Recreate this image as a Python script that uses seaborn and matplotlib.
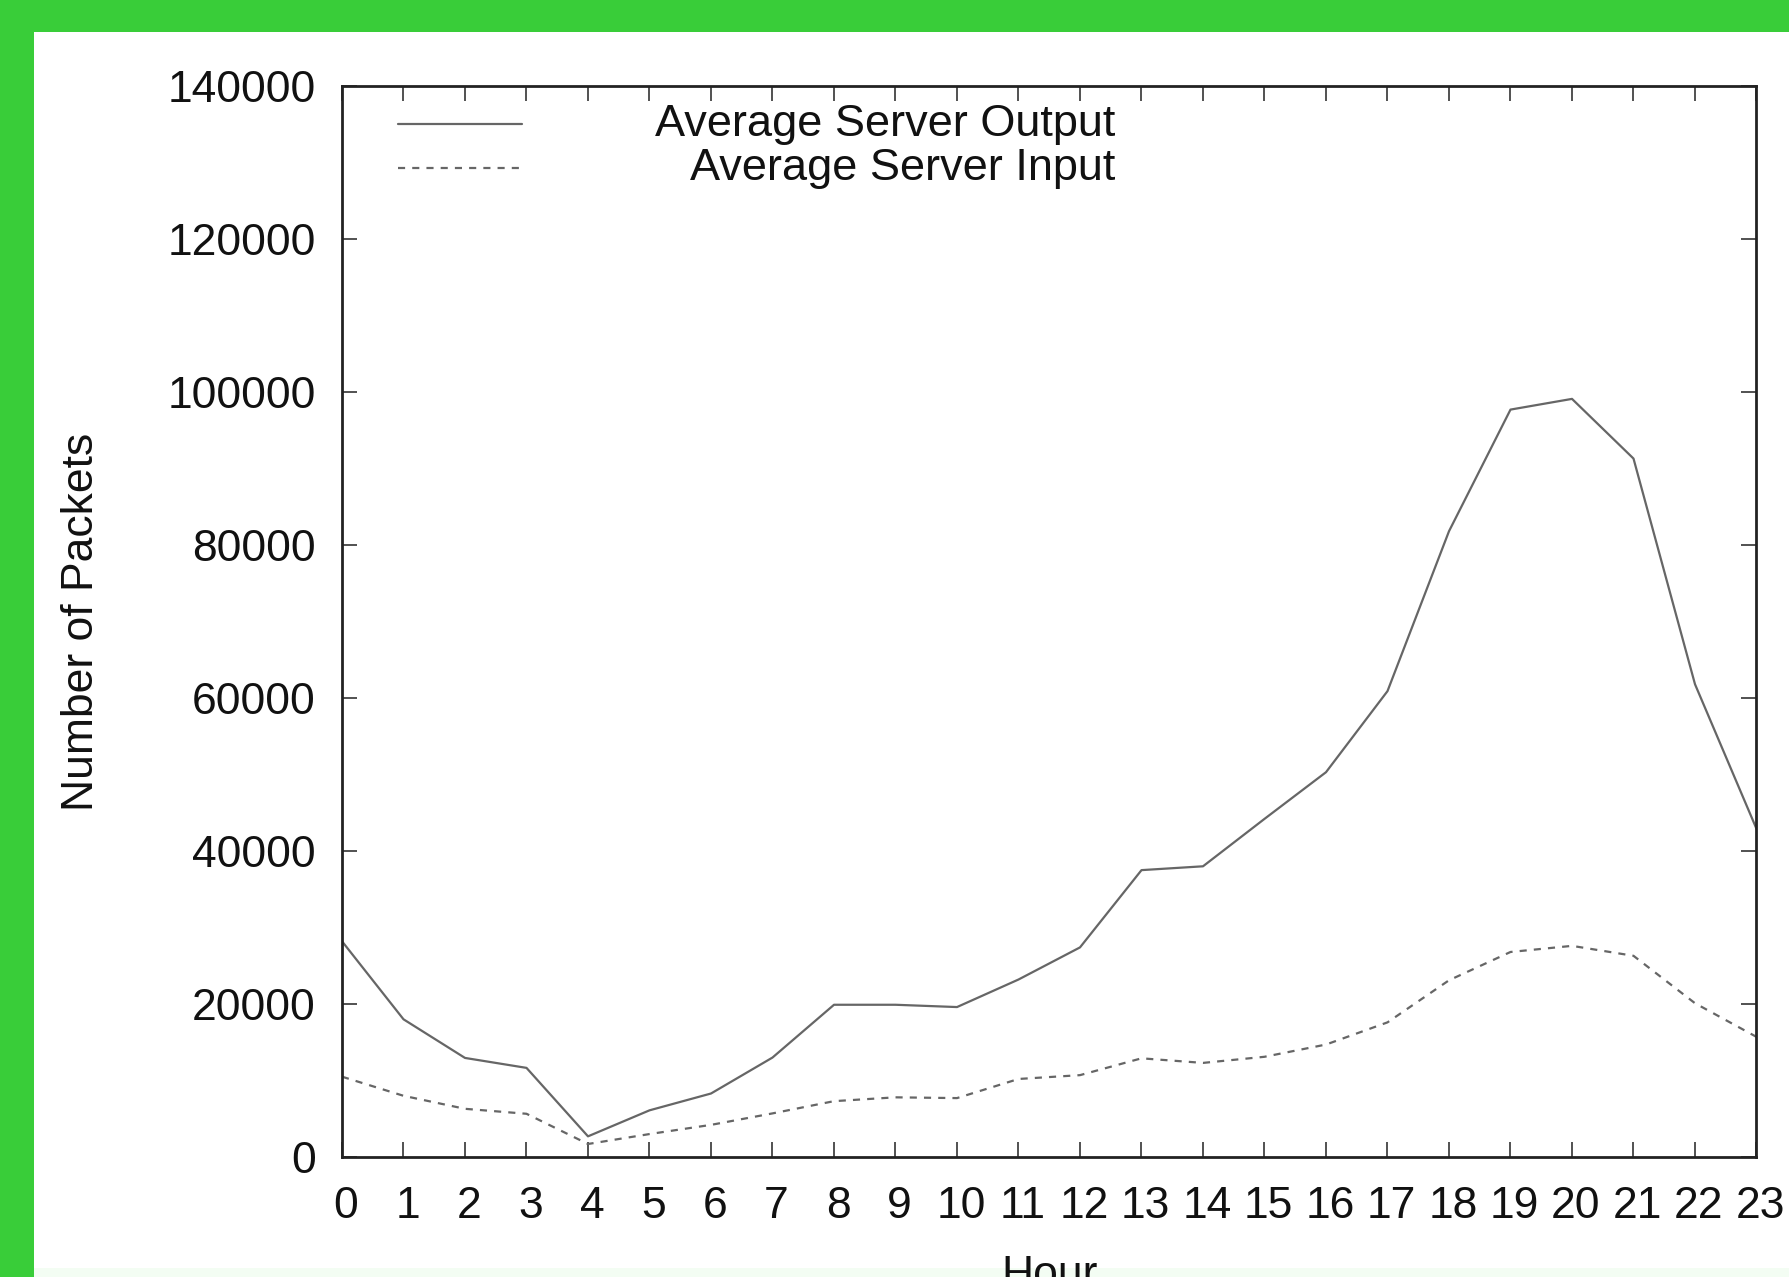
import matplotlib
matplotlib.use("Agg")
import matplotlib.pyplot as plt
import matplotlib.transforms as mtransforms
from matplotlib.lines import Line2D
from matplotlib.patches import Rectangle
import seaborn as sns
import pandas as pd

# Hourly averages of server traffic (packets)
hours = list(range(24))
server_output = [28200, 18000, 12950, 11650, 2700, 6100, 8300, 13000, 19900, 19900,
                 19600, 23200, 27400, 37500, 38000, 44200, 50300, 60900, 81800, 97700,
                 99100, 91300, 61800, 42900]
server_input = [10500, 8000, 6300, 5650, 1700, 3000, 4200, 5700, 7300, 7800,
                7700, 10200, 10700, 12900, 12300, 13100, 14700, 17600, 23100, 26800,
                27600, 26300, 20100, 15700]
series_labels = ["Average Server Output", "Average Server Input"]
y_ticks = [0, 20000, 40000, 60000, 80000, 100000, 120000, 140000]

sns.set_theme(style="ticks")
plt.rcParams["font.family"] = ["Liberation Sans", "DejaVu Sans"]

W, H, DPI = 1790, 1277, 100
fig = plt.figure(figsize=(W / DPI, H / DPI), dpi=DPI)
fig.patch.set_facecolor("#39cd39")

# white page inside the green frame (kept behind the axes)
fig.patches.append(Rectangle((34 / W, 9 / H), 1 - 34 / W, 1 - 41 / H,
                             transform=fig.transFigure, facecolor="white",
                             edgecolor="none", zorder=-10))
fig.patches.append(Rectangle((34 / W, 0), 1 - 34 / W, 9 / H,
                             transform=fig.transFigure, facecolor="#f3fdf3",
                             edgecolor="none", zorder=-10))

ax = fig.add_axes([342 / W, (H - 1157) / H, 1414.5 / W, 1071 / H])
ax.set_zorder(5)
ax.set_facecolor("white")

df = pd.DataFrame({"hour": hours, "output": server_output, "input": server_input})
line_color = "#666666"
sns.lineplot(data=df, x="hour", y="output", ax=ax, color=line_color,
             linewidth=1.6, linestyle="-")
sns.lineplot(data=df, x="hour", y="input", ax=ax, color=line_color,
             linewidth=1.6, linestyle=(0, (3.2, 3.2)))

ax.set_xlim(0, 23)
ax.set_ylim(0, 140000)
ax.set_xticks(hours)
ax.set_xticklabels([str(h) for h in hours])
ax.set_yticks(y_ticks)
ax.set_yticklabels([str(v) for v in y_ticks])

for s in ax.spines.values():
    s.set_visible(True)
    s.set_color("#222222")
    s.set_linewidth(2.0)

ax.tick_params(axis="both", which="major", direction="in", length=11, width=1.1,
               color="#222222", top=True, right=True, labelsize=32,
               labelcolor="#111111")
ax.tick_params(axis="x", pad=21)
ax.tick_params(axis="y", pad=19)

shift = mtransforms.ScaledTranslation(4 / DPI, 0, fig.dpi_scale_trans)
for lbl in ax.get_xticklabels():
    lbl.set_transform(lbl.get_transform() + shift)

ax.set_xlabel("Hour", fontsize=32, color="#111111", labelpad=20)
ax.set_ylabel("Number of Packets", fontsize=32, color="#111111")
ax.yaxis.label.set_va("center")
ax.yaxis.set_label_coords(-0.184, 0.5)

# key in the upper-left corner: sample line on the left, right-justified text
key_rows = [(0.9645, "-"), (0.9234, (0, (3.2, 3.2)))]
for (ky, ls), label in zip(key_rows, series_labels):
    ax.add_line(Line2D([0.0396, 0.1273], [ky, ky], transform=ax.transAxes,
                       color=line_color, linewidth=1.6, linestyle=ls))
    ax.text(0.5467, ky, label, transform=ax.transAxes, ha="right", va="center",
            fontsize=32.5, color="#111111")

fig.savefig("out.png", dpi=DPI, facecolor=fig.get_facecolor())
